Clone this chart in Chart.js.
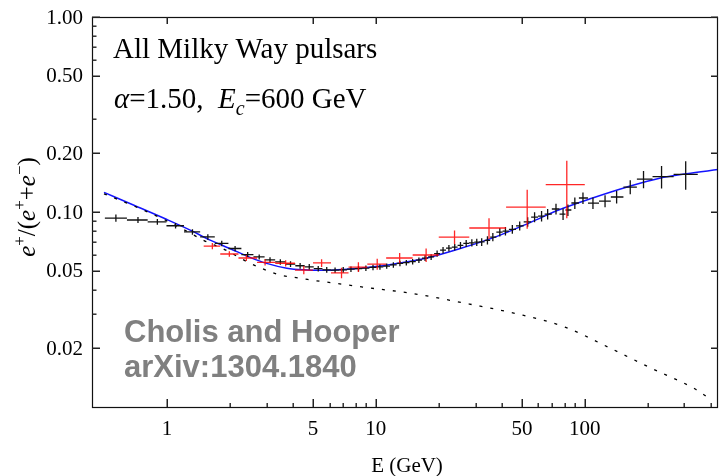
<!DOCTYPE html>
<html>
<head>
<meta charset="utf-8">
<script src="https://cdn.jsdelivr.net/npm/chart.js@4.4.0/dist/chart.umd.min.js"></script>
<style>
  html, body { margin: 0; padding: 0; background: #fff; }
  canvas { display: block; }
</style>
</head>
<body>
<canvas id="fracao" width="719" height="476"></canvas>
<script>
// Fração de pósitrons - AMS-02 (pretos)
const amsE = [0.57, 0.727, 0.90, 1.10, 1.325, 1.57, 1.83, 2.12, 2.435, 2.765, 3.115, 3.49, 3.905, 4.34, 4.80,
  5.30, 5.82, 6.38, 6.98, 7.60, 8.26, 8.96, 9.69, 10.46, 11.27, 12.13, 13.04, 13.99, 15.0, 16.07,
  17.2, 18.39, 19.64, 20.97, 22.37, 23.85, 25.41, 27.06, 28.8, 30.4, 32.1, 34.2, 36.3, 39.2, 41.7,
  45.0, 48.8, 53.3, 57.5, 62.1, 66.4, 72.8, 78.7, 83.0, 89.6, 98.0, 109.4, 125, 142, 165,
  191, 233, 304];
const amsF = [0.093, 0.091, 0.089, 0.085, 0.079, 0.0745, 0.069, 0.065, 0.0605, 0.0588, 0.0568, 0.0555, 0.0541, 0.0530, 0.0523,
  0.0512, 0.0505, 0.0503, 0.0505, 0.0509, 0.0512, 0.0515, 0.0520, 0.0523, 0.0528, 0.0535, 0.0545, 0.0550, 0.0556, 0.0566,
  0.0580, 0.0588, 0.0612, 0.0637, 0.0652, 0.0660, 0.0675, 0.0690, 0.0695, 0.0700, 0.0702, 0.0716, 0.0744, 0.0789, 0.0797,
  0.0815, 0.0848, 0.0889, 0.0942, 0.0953, 0.0976, 0.1036, 0.0976, 0.1024, 0.1112, 0.118, 0.111, 0.1138, 0.1194, 0.1343,
  0.1475, 0.152, 0.156];
const amsErr = [0.004, 0.0032, 0.003, 0.0028, 0.0026, 0.0024, 0.0022, 0.002, 0.0019, 0.0018, 0.0018, 0.0018, 0.0018, 0.0018, 0.0018,
  0.0017, 0.0017, 0.0017, 0.0017, 0.0017, 0.0017, 0.0017, 0.0017, 0.0017, 0.0017, 0.0018, 0.0018, 0.0018, 0.0018, 0.0018,
  0.002, 0.002, 0.0022, 0.0024, 0.0025, 0.0026, 0.0027, 0.0028, 0.003, 0.003, 0.0032, 0.0034, 0.0036, 0.004, 0.004,
  0.0042, 0.0045, 0.005, 0.0055, 0.0058, 0.006, 0.0065, 0.0065, 0.007, 0.0075, 0.008, 0.0075, 0.008, 0.009, 0.011,
  0.015, 0.02, 0.026];

// PAMELA (vermelhos)
const pamEdges = [1.5, 1.8, 2.2, 2.7, 3.3, 4.1, 5.0, 6.1, 7.4, 9.1, 11.2, 15, 20, 28, 42, 65, 100];
const pamE = [1.65, 1.99, 2.4, 2.95, 3.7, 4.52, 5.5, 6.85, 8.25, 10.15, 13.0, 17.4, 23.8, 34.8, 53.0, 82.0];
const pamF = [0.0669, 0.0609, 0.0581, 0.0552, 0.0546, 0.0504, 0.0548, 0.0487, 0.0522, 0.0541, 0.0581, 0.0602, 0.0744, 0.0828, 0.106, 0.138];
const pamErr = [0.0025, 0.002, 0.002, 0.002, 0.002, 0.0025, 0.0025, 0.003, 0.003, 0.0035, 0.0035, 0.0048, 0.006, 0.010, 0.024, 0.045];

// Modelo total (azul) e fundo secundário (tracejado)
const modelE = [0.5, 0.7, 1.0, 1.3, 1.6, 2.0, 2.5, 3.0, 3.75, 4.5, 5.5, 7.0, 10, 13, 18, 26, 38, 55, 76, 109, 158, 228, 307, 434];
const modelF = [0.126, 0.108, 0.0915, 0.0805, 0.072, 0.065, 0.0585, 0.0545, 0.0515, 0.0505, 0.0502, 0.0507, 0.0525, 0.0548, 0.0585, 0.0655, 0.075, 0.0885, 0.103, 0.118, 0.134, 0.149, 0.157, 0.165];
const bgE = [0.5, 0.73, 0.96, 1.19, 1.49, 1.9, 2.45, 3.0, 3.47, 3.96, 4.47, 5.1, 5.83, 8.67, 14.5, 28.1, 47.7, 80.4, 129, 208, 336, 379];
const bgF = [0.124, 0.105, 0.092, 0.0818, 0.0718, 0.064, 0.0552, 0.0502, 0.0475, 0.0464, 0.0455, 0.0445, 0.0437, 0.0412, 0.0384, 0.0337, 0.030, 0.0257, 0.0203, 0.0158, 0.0124, 0.0114];

// Eixos
const yMajor = [1, 0.5, 0.2, 0.1, 0.05, 0.02];
const yLabels = ['1.00', '0.50', '0.20', '0.10', '0.05', '0.02'];
const yMinor = [0.9, 0.8, 0.7, 0.6, 0.3, 0.09, 0.08, 0.07, 0.06, 0.04, 0.03];
const xMajor = [1, 5, 10, 50, 100];
const xLabels = ['1', '5', '10', '50', '100'];
const xMinor = [2, 3, 4, 6, 7, 8, 9, 20, 30, 40, 60, 70, 80, 90, 200, 300, 400];

const SERIF = '"Liberation Serif", "Times New Roman", serif';
const SANS = '"Liberation Sans", Arial, sans-serif';

// limites das barras horizontais (meio geométrico entre pontos vizinhos)
const amsLo = amsE.map((e, i) => i > 0 ? Math.sqrt(e * amsE[i - 1]) : e * e / Math.sqrt(e * amsE[1]));
const amsHi = amsE.map((e, i) => i < amsE.length - 1 ? Math.sqrt(e * amsE[i + 1]) : e * e / Math.sqrt(e * amsE[i - 1]));

function cruzes(ctx, x, y, es, fs, errs, lo, hi, cor) {
  ctx.strokeStyle = cor;
  ctx.lineWidth = 1.3;
  ctx.beginPath();
  for (let i = 0; i < es.length; i++) {
    const px = x.getPixelForValue(es[i]);
    const py = y.getPixelForValue(fs[i]);
    ctx.moveTo(x.getPixelForValue(lo[i]), py);
    ctx.lineTo(x.getPixelForValue(hi[i]), py);
    ctx.moveTo(px, y.getPixelForValue(fs[i] + errs[i]));
    ctx.lineTo(px, y.getPixelForValue(fs[i] - errs[i]));
  }
  ctx.stroke();
}

function textoRico(ctx, partes, x0, y0, alinhar) {
  let total = 0;
  partes.forEach(p => { ctx.font = p.f; total += ctx.measureText(p.t).width; });
  let x = alinhar === 'center' ? x0 - total / 2 : x0;
  partes.forEach(p => {
    ctx.font = p.f;
    ctx.fillText(p.t, x, y0 + (p.dy || 0));
    x += ctx.measureText(p.t).width;
  });
}

const barrasErro = {
  id: 'barrasErro',
  afterDatasetsDraw(chart) {
    const {ctx, chartArea: a, scales: {x, y}} = chart;
    ctx.save();
    ctx.beginPath();
    ctx.rect(a.left, a.top, a.right - a.left, a.bottom - a.top);
    ctx.clip();
    cruzes(ctx, x, y, amsE, amsF, amsErr, amsLo, amsHi, '#111');
    cruzes(ctx, x, y, pamE, pamF, pamErr, pamEdges.slice(0, -1), pamEdges.slice(1), 'rgba(255,0,0,0.85)');
    ctx.restore();
  }
};

const moldura = {
  id: 'moldura',
  afterDraw(chart) {
    const {ctx, chartArea: a, scales: {x, y}} = chart;
    const esq = a.left, dir = a.right, topo = a.top, base = a.bottom;
    ctx.save();
    ctx.setLineDash([]);
    ctx.strokeStyle = '#111';
    ctx.lineWidth = 1.2;
    ctx.strokeRect(esq + 0.5, topo + 0.5, dir - esq - 1, base - topo);

    // marcas dos eixos (para dentro)
    ctx.fillStyle = '#222';
    yMajor.forEach(v => {
      const py = Math.round(y.getPixelForValue(v)) - 0.5;
      ctx.fillRect(esq, py, 8, 1.5);
      ctx.fillRect(dir - 7, py, 7, 1.5);
    });
    yMinor.forEach(v => {
      const py = Math.round(y.getPixelForValue(v)) - 0.5;
      ctx.fillRect(esq, py, 4.5, 1.4);
    });
    xMajor.forEach(v => {
      const px = Math.round(x.getPixelForValue(v)) - 0.5;
      ctx.fillRect(px, base - 8, 1.5, 8);
      ctx.fillRect(px, topo, 1.5, 7);
    });
    xMinor.forEach(v => {
      const px = Math.round(x.getPixelForValue(v)) - 0.5;
      ctx.fillRect(px, base - 4, 1.4, 4);
    });

    ctx.fillStyle = '#000';
    ctx.font = '21px ' + SERIF;
    ctx.textAlign = 'right';
    ctx.textBaseline = 'middle';
    yMajor.forEach((v, i) => ctx.fillText(yLabels[i], esq - 9, y.getPixelForValue(v) + 1));
    ctx.textAlign = 'center';
    xMajor.forEach((v, i) => ctx.fillText(xLabels[i], x.getPixelForValue(v), 429));
    ctx.fillText('E (GeV)', 407, 466);

    // título do eixo y
    ctx.textAlign = 'left';
    ctx.textBaseline = 'alphabetic';
    ctx.save();
    ctx.translate(35, 207);
    ctx.rotate(-Math.PI / 2);
    const it = 'italic 25px ' + SERIF, rm = '25px ' + SERIF, sp = '17px ' + SERIF;
    textoRico(ctx, [
      {t: 'e', f: it}, {t: '+', f: sp, dy: -10}, {t: '/(', f: rm},
      {t: 'e', f: it}, {t: '+', f: sp, dy: -10}, {t: '+', f: rm},
      {t: 'e', f: it}, {t: '\u2212', f: sp, dy: -10}, {t: ')', f: rm}
    ], 0, 0, 'center');
    ctx.restore();

    // anotações
    ctx.font = '29px ' + SERIF;
    ctx.fillText('All Milky Way pulsars', 113, 58);
    const it2 = 'italic 29px ' + SERIF, rm2 = '29px ' + SERIF;
    textoRico(ctx, [
      {t: '\u03b1', f: it2}, {t: '=1.50,  ', f: rm2}, {t: 'E', f: it2},
      {t: 'c', f: 'italic 20px ' + SERIF, dy: 7}, {t: '=600 GeV', f: rm2}
    ], 114, 108);

    ctx.fillStyle = '#808080';
    ctx.font = 'bold 31px ' + SANS;
    ctx.fillText('Cholis and Hooper', 124, 342);
    ctx.fillText('arXiv:1304.1840', 124, 377);
    ctx.restore();
  }
};

const ctxFracao = document.getElementById('fracao').getContext('2d');
const graficoFracao = new Chart(ctxFracao, {
  type: 'scatter',
  data: {
    datasets: [
      {
        label: 'fundo',
        data: bgE.map((e, i) => ({x: e, y: bgF[i]})),
        showLine: true,
        borderColor: '#000',
        borderWidth: 1.3,
        borderDash: [3, 8],
        pointRadius: 0,
        cubicInterpolationMode: 'monotone'
      },
      {
        label: 'modelo',
        data: modelE.map((e, i) => ({x: e, y: modelF[i]})),
        showLine: true,
        borderColor: '#1414ff',
        borderWidth: 1.5,
        pointRadius: 0,
        cubicInterpolationMode: 'monotone'
      }
    ]
  },
  options: {
    responsive: false,
    animation: false,
    layout: { padding: { left: 92, right: 1, top: 17, bottom: 69 } },
    scales: {
      x: { type: 'logarithmic', min: 0.438, max: 434, bounds: 'data', display: false },
      y: { type: 'logarithmic', min: 0.01, max: 1.0, bounds: 'data', display: false }
    },
    plugins: {
      legend: { display: false },
      tooltip: { enabled: false }
    }
  },
  plugins: [barrasErro, moldura]
});
</script>
</body>
</html>
